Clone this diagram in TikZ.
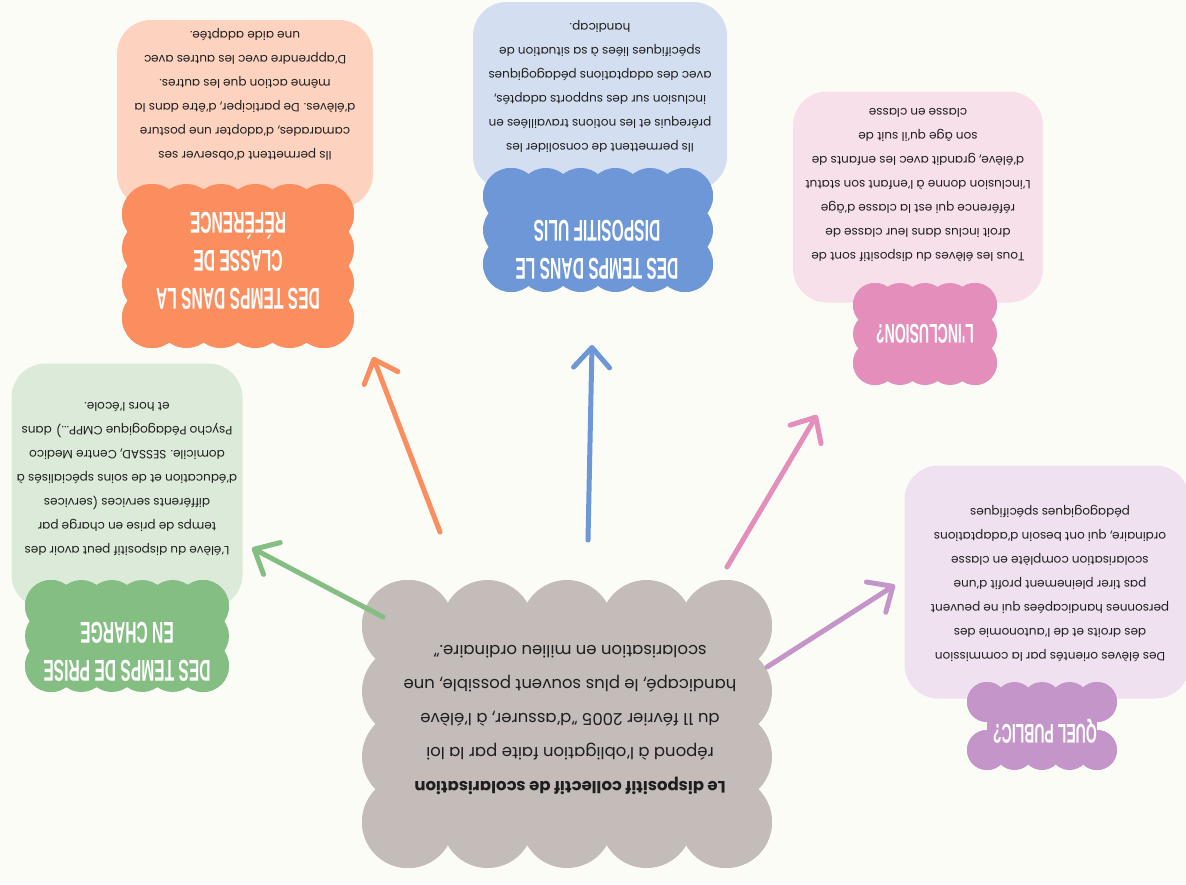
\documentclass[tikz,border=0pt]{standalone}
\usepackage{fontspec}
\setmainfont{Poppins}
\newfontfamily\titrefont[FakeStretch=0.52]{Liberation Sans}
\usetikzlibrary{arrows.meta}

\definecolor{fond}{HTML}{FCFCF7}
\definecolor{encre}{HTML}{1E1E1E}
\definecolor{gris}{HTML}{C3BCB9}
\definecolor{violet}{HTML}{C495C9}
\definecolor{violetclair}{HTML}{EFE1EF}
\definecolor{rose}{HTML}{E48EBB}
\definecolor{roseclair}{HTML}{F8E0EA}
\definecolor{bleu}{HTML}{6D97D7}
\definecolor{bleuclair}{HTML}{D3DFF0}
\definecolor{orange}{HTML}{FA8E5E}
\definecolor{orangeclair}{HTML}{FDD3C0}
\definecolor{vert}{HTML}{85BE83}
\definecolor{vertclair}{HTML}{DCEAD9}

% nuage : centre x, centre y, demi-largeur, demi-hauteur, nx, ny, rayon, couleur
\newcommand{\nuage}[8]{%
  \fill[#8] (#1-#3,#2-#4) rectangle (#1+#3,#2+#4);
  \foreach \i in {0,...,#5}{
    \fill[#8] ({#1-#3+2*#3*\i/#5},{#2-#4}) circle (#7pt);
    \fill[#8] ({#1-#3+2*#3*\i/#5},{#2+#4}) circle (#7pt);
  }
  \foreach \j in {0,...,#6}{
    \fill[#8] ({#1-#3},{#2-#4+2*#4*\j/#6}) circle (#7pt);
    \fill[#8] ({#1+#3},{#2-#4+2*#4*\j/#6}) circle (#7pt);
  }
}

\tikzset{
  cadre/.style={rectangle, rounded corners=34pt, inner sep=0pt},
  texte/.style={rotate=180, align=center, text=encre, font=\fontsize{12}{24}\selectfont},
  titre/.style={rotate=180, align=center, text=white, font=\titrefont\bfseries\fontsize{30}{38}\selectfont},
  petittitre/.style={titre, font=\titrefont\bfseries\fontsize{27}{34}\selectfont},
  fleche/.style={line width=5pt, line cap=round, -{Straight Barb[length=20pt,width=36pt,round]}},
}

\begin{document}
\begin{tikzpicture}[x=1pt, y=-1pt]
  % fond
  \clip (0,0) rectangle (1186,884);
  \fill[fond] (0,0) rectangle (1186,884);

  % cadres
  \node[cadre, fill=violetclair, minimum width=285pt, minimum height=233pt] (cadre-public) at (1047,582) {};
  \node[cadre, fill=roseclair, minimum width=250pt, minimum height=211pt] (cadre-inclusion) at (918,197) {};
  \node[cadre, fill=bleuclair, minimum width=254pt, minimum height=188pt] (cadre-ulis) at (600,96) {};
  \node[cadre, fill=orangeclair, minimum width=256pt, minimum height=188pt] (cadre-classe) at (245,114) {};
  \node[cadre, fill=vertclair, minimum width=231pt, minimum height=245pt] (cadre-prise) at (127,486) {};

  % nuages
  \nuage{567}{724}{159}{98}{4}{3}{46}{gris}
  \nuage{1042}{726}{55}{24}{4}{1}{20}{violet}
  \nuage{925}{334}{50}{29}{4}{2}{22}{rose}
  \nuage{598}{230}{87}{34}{5}{2}{28}{bleu}
  \nuage{238}{266}{86}{52}{5}{3}{30}{orange}
  \nuage{127}{636}{76}{30}{5}{2}{26}{vert}

  % titres
  \node[petittitre] (titre-public) at (1045,731) {QUEL PUBLIC?};
  \node[petittitre] (titre-inclusion) at (925,334) {L'INCLUSION?};
  \node[titre] (titre-ulis) at (597,250) {DES TEMPS DANS LE\\DISPOSITIF ULIS};
  \node[titre] (titre-classe) at (238,261) {DES TEMPS DANS LA\\CLASSE DE\\RÉFÉRENCE};
  \node[titre] (titre-prise) at (127,652) {DES TEMPS DE PRISE\\EN CHARGE};

  % textes
  \node[texte, font=\fontsize{16.5}{34}\selectfont] (centre) at (570,720)
    {\textbf{Le dispositif collectif de scolarisation}\\
     répond à l'obligation faite par la loi\\
     du 11 février 2005 "d'assurer, à l'élève\\
     handicapé,  le plus souvent possible, une\\
     scolarisation en milieu ordinaire."};
  \node[texte] (public) at (1050,584)
    {Des élèves orientés par la commission\\
     des droits et de l'autonomie des\\
     personnes handicapées qui ne peuvent\\
     pas tirer pleinement profit d'une\\
     scolarisation complète en classe\\
     ordinaire, qui ont besoin d'adaptations\\
     pédagogiques spécifiques};
  \node[texte] (inclusion) at (918,185)
    {Tous les élèves du dispositif sont de\\
     droit inclus dans leur classe de\\
     référence qui est la classe d'âge\\
     L'inclusion donne à l'enfant son statut\\
     d'élève, grandit avec les enfants de\\
     son âge qu'il suit de\\
     classe en classe};
  \node[texte] (ulis) at (600,87)
    {Ils permettent de consolider les\\
     prérequis et les notions travaillées en\\
     inclusion sur des supports adaptés,\\
     avec des adaptations pédagogiques\\
     spécifiques liées à sa situation de\\
     handicap.};
  \node[texte] (classe) at (245,94)
    {Ils permettent d'observer ses\\
     camarades, d'adopter une posture\\
     d'élèves. De participer, d'être dans la\\
     même action que les autres.\\
     D'apprendre avec les autres avec\\
     une aide adaptée.};
  \node[texte] (prise) at (127,479)
    {L'élève du dispositif peut avoir des\\
     temps de prise en charge par\\
     différents services (services\\
     d'éducation et de soins spécialisés à\\
     domicile. SESSAD, Centre Medico\\
     Psycho Pédagogique CMPP...) dans\\
     et hors l'école.};

  % flèches
  \coordinate (d-classe) at (440,532);   \coordinate (f-classe) at (373,357);
  \coordinate (d-ulis) at (588,540);     \coordinate (f-ulis) at (592,345);
  \coordinate (d-inclusion) at (727,567); \coordinate (f-inclusion) at (817,415);
  \coordinate (d-public) at (767,667);   \coordinate (f-public) at (895,585);
  \coordinate (d-prise) at (383,617);    \coordinate (f-prise) at (252,548);
  \draw[fleche, orange] (d-classe) -- (f-classe);
  \draw[fleche, bleu] (d-ulis) -- (f-ulis);
  \draw[fleche, rose] (d-inclusion) -- (f-inclusion);
  \draw[fleche, violet] (d-public) -- (f-public);
  \draw[fleche, vert] (d-prise) -- (f-prise);
\end{tikzpicture}
\end{document}
